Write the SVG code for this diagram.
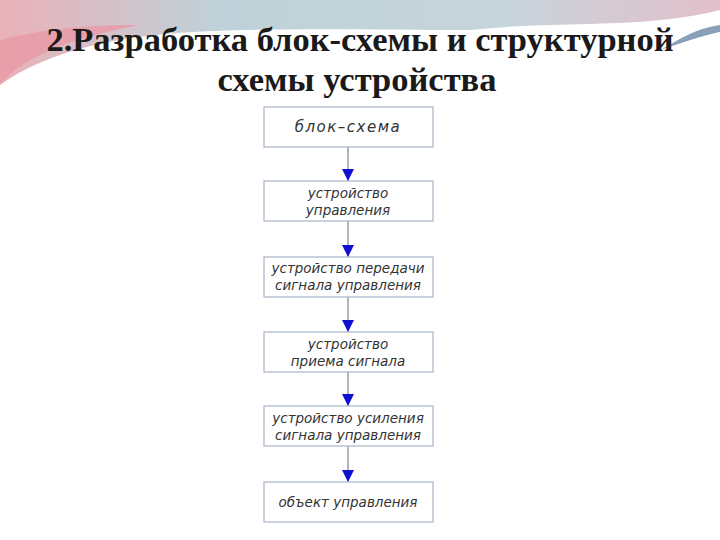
<svg xmlns="http://www.w3.org/2000/svg" width="720" height="540" viewBox="0 0 720 540">
<defs>
<linearGradient id="bg" x1="0" y1="0" x2="1" y2="0"><stop offset="0" stop-color="#e8a8b0"/><stop offset="0.3" stop-color="#b8ccd4"/><stop offset="0.7" stop-color="#c0d0d8"/><stop offset="1" stop-color="#e0b8c4"/></linearGradient>
<marker id="ah" viewBox="0 0 10 10" refX="10" refY="5" markerWidth="12" markerHeight="12" markerUnits="userSpaceOnUse" orient="auto"><path d="M0,0L10,5L0,10z" fill="#1010d0"/></marker>
</defs>
<style>
.box{fill:#fff;stroke:#a8b4c8;stroke-width:1.2}
.t{font-family:"DejaVu Sans",sans-serif;font-style:italic;font-size:13.5px;fill:#333;text-anchor:middle}
.c{stroke:#6a6a6a;stroke-width:1;marker-end:url(#ah)}
.title{font-family:"Liberation Serif",serif;font-weight:bold;font-size:34.5px;fill:#1a1a1a;text-anchor:middle}
</style>
<rect width="720" height="540" fill="#fff"/>
<path d="M0,0H720V10C640,30 560,20 470,30 360,30 200,25 120,40 60,50 20,70 0,85Z" fill="url(#bg)" opacity="0.9"/>
<path d="M0,40C40,30 80,25 140,25 60,40 20,60 0,85Z" fill="#e89aa6" opacity="0.8"/>
<path d="M720,25C690,30 680,40 660,50 690,40 705,35 720,32Z" fill="#8aa0b8"/>
<text class="title" x="360" y="51">2.Разработка блок-схемы и структурной</text>
<text class="title" x="357" y="91">схемы устройства</text>
<g id="connectors">
<line class="c" x1="348" y1="147" x2="348" y2="181"/>
<line class="c" x1="348" y1="221" x2="348" y2="257"/>
<line class="c" x1="348" y1="297" x2="348" y2="332"/>
<line class="c" x1="348" y1="372" x2="348" y2="406"/>
<line class="c" x1="348" y1="446" x2="348" y2="482"/>
</g>
<g id="n1"><rect class="box" x="264" y="107" width="169" height="40"/><text class="t" x="348" y="132" style="font-size:15px;letter-spacing:1.5px">блок–схема</text></g>
<g id="n2"><rect class="box" x="264" y="181" width="169" height="40"/><text class="t" x="348" y="198">устройство</text><text class="t" x="348" y="215">управления</text></g>
<g id="n3"><rect class="box" x="264" y="257" width="169" height="40"/><text class="t" x="348" y="273">устройство передачи</text><text class="t" x="348" y="290">сигнала управления</text></g>
<g id="n4"><rect class="box" x="264" y="332" width="169" height="40"/><text class="t" x="348" y="349">устройство</text><text class="t" x="348" y="366">приема сигнала</text></g>
<g id="n5"><rect class="box" x="264" y="406" width="169" height="40"/><text class="t" x="348" y="423">устройство усиления</text><text class="t" x="348" y="440">сигнала управления</text></g>
<g id="n6"><rect class="box" x="264" y="482" width="169" height="40"/><text class="t" x="348" y="507">объект управления</text></g>
</svg>
